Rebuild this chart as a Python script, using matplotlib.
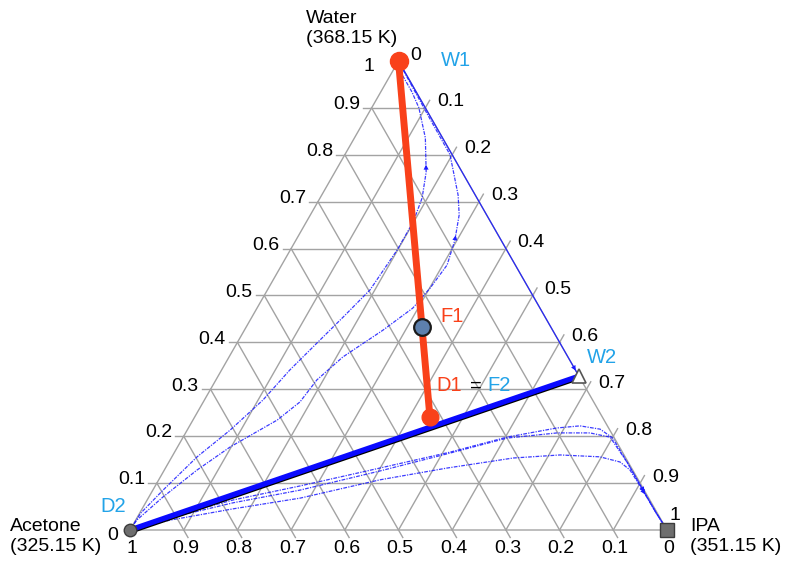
import numpy as np
import matplotlib.pyplot as plt

plt.rcParams['font.family'] = ['Liberation Sans', 'DejaVu Sans']

# compositions as (water, IPA) mole fractions, acetone = 1 - water - IPA
ticks = np.round(np.arange(0, 1.01, 0.1), 1)

# residue curves running acetone -> water
curve_a_water = [0, 0.036, 0.085, 0.156, 0.213, 0.277, 0.341, 0.399, 0.454, 0.512,
                 0.597, 0.657, 0.708, 0.763, 0.836, 0.900, 0.934, 0.977, 1.0]
curve_a_ipa = [0, 0.002, 0.019, 0.047, 0.080, 0.109, 0.127, 0.149, 0.170, 0.191,
               0.199, 0.199, 0.190, 0.170, 0.132, 0.088, 0.058, 0.015, 0.0]
curve_b_water = [0, 0.021, 0.070, 0.128, 0.177, 0.2345, 0.273, 0.320, 0.369, 0.426,
                 0.473, 0.516, 0.565, 0.618, 0.672, 0.714, 0.800, 0.885, 0.934, 0.981, 1.0]
curve_b_ipa = [0, 0.002, 0.026, 0.061, 0.098, 0.157, 0.180, 0.188, 0.212, 0.258,
               0.290, 0.301, 0.308, 0.296, 0.277, 0.254, 0.196, 0.112, 0.064, 0.018, 0.0]

# residue curves running acetone -> IPA
curve_c_water = [0, 0.028, 0.064, 0.094, 0.132, 0.166, 0.198, 0.2175, 0.222, 0.215,
                 0.196, 0.143, 0.092, 0.038, 0.0]
curve_c_ipa = [0, 0.061, 0.160, 0.270, 0.399, 0.513, 0.603, 0.686, 0.727, 0.768,
               0.801, 0.855, 0.906, 0.960, 1.0]
curve_d_water = [0, 0.026, 0.058, 0.085, 0.126, 0.164, 0.196, 0.207, 0.207, 0.198,
                 0.143, 0.092, 0.038, 0.0]
curve_d_ipa = [0, 0.062, 0.163, 0.274, 0.403, 0.514, 0.604, 0.692, 0.753, 0.795,
               0.855, 0.906, 0.960, 1.0]
curve_e_water = [0, 0.021, 0.045, 0.068, 0.107, 0.132, 0.1535, 0.160, 0.156, 0.145,
                 0.128, 0.085, 0.038, 0.0]
curve_e_ipa = [0, 0.064, 0.169, 0.283, 0.412, 0.524, 0.637, 0.721, 0.797, 0.840,
               0.867, 0.912, 0.960, 1.0]

# streams
w1 = (1.0, 0.0)
f1 = (0.433, 0.327)
d1 = (0.241, 0.438)
w2 = (0.328, 0.672)
d2 = (0.0, 0.0)
ipa_pure = (0.0, 1.0)

S = np.sqrt(3) / 2


def xy(water, ipa):
    water = np.asarray(water, float)
    ipa = np.asarray(ipa, float)
    return ipa + water / 2, water * S


fig = plt.figure(figsize=(7.9, 5.63), dpi=100)
ax = fig.add_axes([0, 0, 1, 1])
ax.set_xlim(-130 / 537, 660 / 537)
ax.set_ylim(-33 / 541.6, 530 / 541.6)
ax.axis('off')

grid_c = '#a3a3a3'
blue = '#1a1aff'
lblue = '#22a3e8'
red = '#f9411a'
fs = 14

# grid lines and ticks
tl = 0.016
for t in ticks[1:-1]:
    # constant water
    x, y = xy([t, t], [0, 1 - t])
    ax.plot([x[0] - tl, x[1]], y, color=grid_c, lw=1)
    # constant IPA
    x, y = xy([0, 1 - t], [t, t])
    ax.plot([x[0], x[1] + tl * 0.5], [y[0], y[1] + tl * S], color=grid_c, lw=1)
    # constant acetone
    x, y = xy([0, 1 - t], [1 - t, 0])
    ax.plot([x[0] + tl * 0.5, x[1]], [y[0] - tl * S, y[1]], color=grid_c, lw=1)

x, y = xy([0, 0, 1, 0], [0, 1, 0, 0])
ax.plot(x, y, color=grid_c, lw=1)

# axis labels
for t in ticks:
    lab = f"{t:g}"
    # water on the left side
    x, y = xy(t, 0)
    dy = 0.006
    dx = -0.022
    if t == 0:
        dy = -0.01
    if t == 1:
        dx, dy = -0.045, -0.01
    ax.text(x + dx, y + dy, lab, ha='right', va='center', fontsize=fs)
    # IPA on the right side
    x, y = xy(1 - t, t)
    dx, dy = 0.022, 0.011
    if t == 1:
        dx, dy = 0.004, 0.026
    ax.text(x + dx, y + dy, lab, ha='left', va='center', fontsize=fs)
    # acetone along the bottom
    x, y = xy(0, 1 - t)
    ax.text(x + 0.003, y - 0.034, lab, ha='center', va='center', fontsize=fs)

# vertex names
ax.annotate('Water\n(368.15 K)', xy(*w1), xytext=(-93, 51), textcoords='offset pixels',
            ha='left', va='top', fontsize=fs)
ax.annotate('Acetone\n(325.15 K)', xy(*d2), xytext=(-120, 12), textcoords='offset pixels',
            ha='left', va='top', fontsize=fs)
ax.annotate('IPA\n(351.15 K)', xy(*ipa_pure), xytext=(23, 12), textcoords='offset pixels',
            ha='left', va='top', fontsize=fs)

# residue curves
ls = (0, (3, 1, 1, 1))
curves = [(curve_a_water, curve_a_ipa, 13), (curve_b_water, curve_b_ipa, 13),
          (curve_c_water, curve_c_ipa, 12), (curve_d_water, curve_d_ipa, 11),
          (curve_e_water, curve_e_ipa, 11)]
for cw, ci, k in curves:
    x, y = xy(cw, ci)
    ax.plot(x, y, color=blue, lw=0.9, ls=ls, alpha=0.85)
    ax.annotate('', xy=(x[k + 1] * 0.3 + x[k] * 0.7, y[k + 1] * 0.3 + y[k] * 0.7),
                xytext=(x[k], y[k]),
                arrowprops=dict(arrowstyle='-|>', color=blue, lw=0, mutation_scale=9))

# water-IPA edge up to the azeotrope
x, y = xy([w1[0], w2[0]], [w1[1], w2[1]])
ax.plot(x, y, color=blue, lw=0.9, alpha=0.9)
ax.annotate('', xy=(x[0] * 0.01 + x[1] * 0.99, y[0] * 0.01 + y[1] * 0.99),
            xytext=(x[0] * 0.06 + x[1] * 0.94, y[0] * 0.06 + y[1] * 0.94),
            arrowprops=dict(arrowstyle='-|>', color=blue, lw=0, mutation_scale=9))

# distillation boundary and mass balance line D2 - W2
x, y = xy([d2[0], w2[0]], [d2[1], w2[1]])
ax.plot(x, [v - 0.004 for v in y], color='black', lw=2.6, solid_capstyle='butt')
ax.plot(x, y, color='#0a0aff', lw=3.8, solid_capstyle='butt')

# W1 -> D1 line
x, y = xy([w1[0], d1[0]], [w1[1], d1[1]])
ax.plot(x, y, color=red, lw=5, solid_capstyle='butt', zorder=4)
ax.plot(*xy(*w1), 'o', ms=13, color=red, zorder=5)
ax.plot(*xy(*d1), 'o', ms=12, color=red, zorder=5)

# markers
ax.plot(*xy(*f1), 'o', ms=12, mfc='#5d80ad', mec='#1a1a1a', mew=1.6, zorder=6)
ax.plot(*xy(*w2), '^', ms=10, mfc='white', mec='#555555', mew=1.2, zorder=6)
ax.plot(*xy(*d2), 'o', ms=9, mfc='#6e6e6e', mec='#3c3c3c', mew=1, zorder=6)
ax.plot(*xy(*ipa_pure), 's', ms=10, mfc='#6e6e6e', mec='#3c3c3c', mew=1, zorder=6)


# stream labels
def lab(pt, s, c, off, ha='left'):
    ax.annotate(s, xy(*pt), xytext=off, textcoords='offset pixels', color=c,
                fontsize=fs + 0.5, ha=ha, va='center')


lab(w1, 'W1', lblue, (42, 0))
lab(f1, 'F1', red, (19, 10))
lab(d1, 'D1', red, (6, 31))
lab(d1, '=', 'black', (40, 31))
lab(d1, 'F2', lblue, (57, 31))
lab(w2, 'W2', lblue, (8, 19))
lab(d2, 'D2', lblue, (-17, 24), ha='center')

fig.savefig('out.png', dpi=100)
